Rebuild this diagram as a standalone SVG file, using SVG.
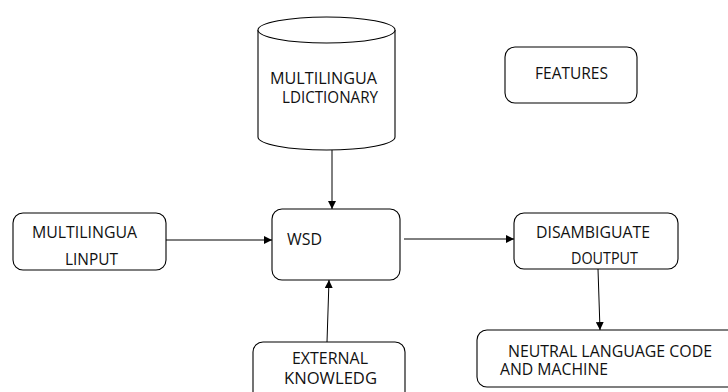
<svg xmlns="http://www.w3.org/2000/svg" width="728" height="392" viewBox="0 0 728 392">
<defs>
<marker id="arr" viewBox="0 0 10 10" refX="10" refY="5" markerWidth="8" markerHeight="8" markerUnits="userSpaceOnUse" orient="auto">
<path d="M0,0 L10,5 L0,10 Z" fill="#000"/>
</marker>
<style>
.box{fill:#fff;stroke:#000;stroke-width:1.1}
.t{font-family:"Open Sans","Liberation Sans",sans-serif;font-size:16px;fill:#111}
.c{stroke:#000;stroke-width:1;fill:none;marker-end:url(#arr)}
</style>
</defs>
<rect width="728" height="392" fill="#fff"/>
<g id="dictionary">
<path class="box" d="M258,30 L258,137 A68.5,13 0 0 0 395,137 L395,30"/>
<ellipse class="box" cx="326.5" cy="30" rx="68.5" ry="13"/>
<text class="t" x="270" y="84" textLength="107" lengthAdjust="spacingAndGlyphs">MULTILINGUA</text>
<text class="t" x="282" y="103" textLength="96" lengthAdjust="spacingAndGlyphs">LDICTIONARY</text>
</g>
<g id="features">
<rect class="box" x="505" y="47" width="132" height="56" rx="10"/>
<text class="t" x="535" y="79" textLength="73" lengthAdjust="spacingAndGlyphs">FEATURES</text>
</g>
<g id="input">
<rect class="box" x="13" y="213" width="153" height="57" rx="10"/>
<text class="t" x="32" y="238" textLength="105" lengthAdjust="spacingAndGlyphs">MULTILINGUA</text>
<text class="t" x="65" y="265" textLength="53" lengthAdjust="spacingAndGlyphs">LINPUT</text>
</g>
<g id="wsd">
<rect class="box" x="272" y="209" width="128" height="71" rx="10"/>
<text class="t" x="287" y="245" textLength="35" lengthAdjust="spacingAndGlyphs">WSD</text>
</g>
<g id="output">
<rect class="box" x="514" y="213" width="164" height="56" rx="10"/>
<text class="t" x="536" y="238" textLength="114" lengthAdjust="spacingAndGlyphs">DISAMBIGUATE</text>
<text class="t" x="571" y="264" textLength="67" lengthAdjust="spacingAndGlyphs">DOUTPUT</text>
</g>
<g id="external">
<rect class="box" x="253" y="342" width="152" height="70" rx="10"/>
<text class="t" x="292" y="364" textLength="76" lengthAdjust="spacingAndGlyphs">EXTERNAL</text>
<text class="t" x="284" y="384" textLength="93" lengthAdjust="spacingAndGlyphs">KNOWLEDG</text>
</g>
<g id="neutral">
<rect class="box" x="477" y="330" width="262" height="57" rx="10"/>
<text class="t" x="508" y="357" textLength="204" lengthAdjust="spacingAndGlyphs">NEUTRAL LANGUAGE CODE</text>
<text class="t" x="500" y="375" textLength="108" lengthAdjust="spacingAndGlyphs">AND MACHINE</text>
</g>
<g id="connectors">
<line class="c" x1="332" y1="150" x2="332" y2="209"/>
<line class="c" x1="166" y1="240" x2="272" y2="240"/>
<line class="c" x1="404" y1="239" x2="514" y2="239"/>
<line class="c" x1="327" y1="342" x2="329" y2="280"/>
<line class="c" x1="598" y1="269" x2="600" y2="330"/>
</g>
</svg>
